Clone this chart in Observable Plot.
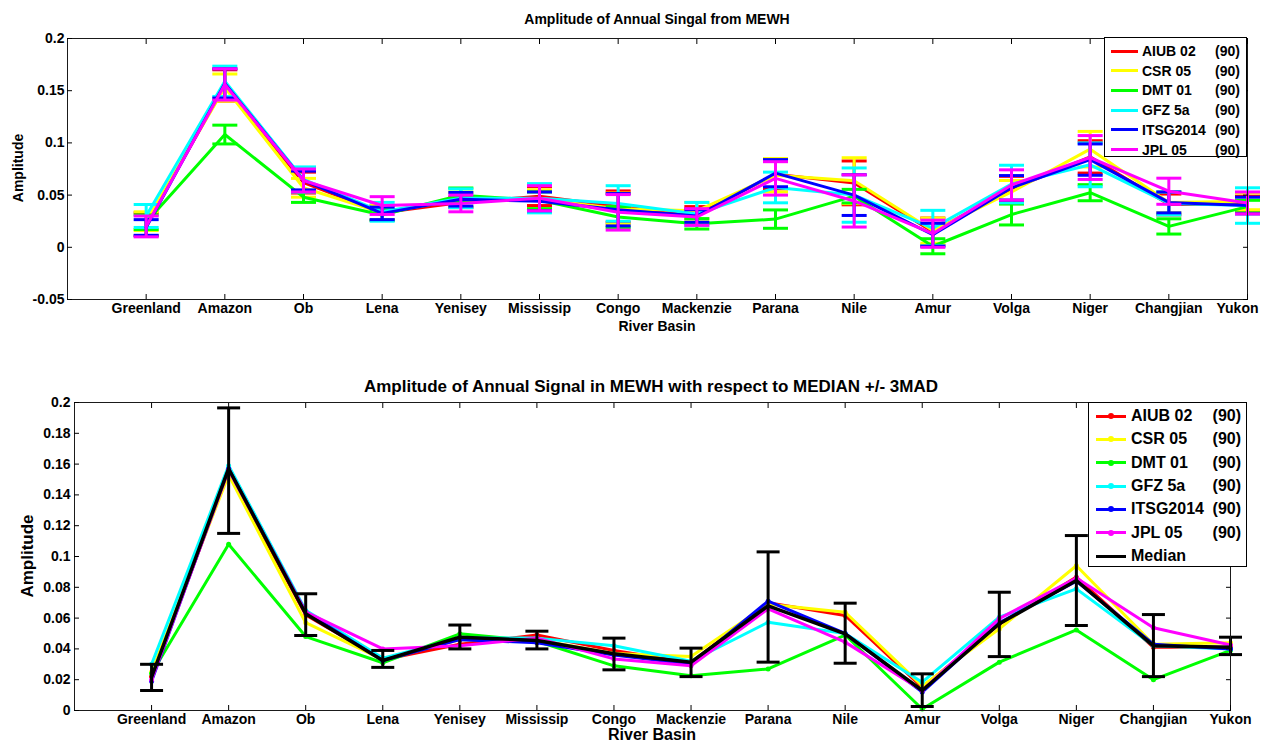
<!DOCTYPE html>
<html><head><meta charset="utf-8">
<script src="https://cdn.jsdelivr.net/npm/d3@7"></script>
<script src="https://cdn.jsdelivr.net/npm/@observablehq/plot@0.6"></script>
<style>
body{margin:0;background:#fff;font-family:"Liberation Sans",Arial,sans-serif;color:#000;}
#wrap{position:relative;width:1261px;height:744px;overflow:hidden;background:#fff;}
.abs{position:absolute;}
.lbl{position:absolute;font-weight:bold;white-space:nowrap;line-height:1;transform:translate(-50%,-50%);}
.rot{transform:translate(-50%,-50%) rotate(-90deg);}
.legend{position:absolute;border:1px solid #000;background:#fff;font-weight:bold;box-sizing:border-box;z-index:5;}
.legend .sw{position:absolute;height:3px;}
.legend .nm,.legend .ct{position:absolute;line-height:1;white-space:nowrap;transform:translateY(-50%);}
.legend .mk{position:absolute;width:6px;height:6px;border-radius:50%;transform:translate(-50%,-50%);}
</style></head><body><div id="wrap"></div>
<script>
// ---- data ----
const basins = ["Greenland","Amazon","Ob","Lena","Yenisey","Mississip","Congo","Mackenzie","Parana","Nile","Amur","Volga","Niger","Changjian","Yukon"];
const seriesNames = ["AIUB 02","CSR 05","DMT 01","GFZ 5a","ITSG2014","JPL 05"];
const seriesCounts = [90,90,90,90,90,90];
const seriesColors = ["#ff0000","#ffff00","#00ff00","#00ffff","#0000ff","#ff00ff"];

const aiub02   = [0.022,0.155,0.062,0.033,0.043,0.049,0.039,0.031,0.070,0.0617,0.015,0.056,0.0866,0.041,0.041];
const csr05    = [0.025,0.153,0.057,0.033,0.046,0.046,0.037,0.035,0.069,0.0638,0.016,0.053,0.094,0.043,0.044];
const dmt01    = [0.024,0.108,0.048,0.031,0.0498,0.045,0.029,0.0225,0.027,0.049,0.001,0.0314,0.0523,0.020,0.039];
const gfz5a    = [0.030,0.159,0.065,0.034,0.047,0.047,0.042,0.032,0.0573,0.050,0.0184,0.0606,0.079,0.042,0.040];
const itsg2014 = [0.019,0.157,0.064,0.0325,0.046,0.044,0.036,0.030,0.071,0.050,0.012,0.057,0.084,0.043,0.040];
const jpl05    = [0.020,0.156,0.064,0.040,0.042,0.047,0.0335,0.029,0.066,0.0444,0.013,0.0597,0.086,0.0537,0.0425];

const aiub02Err   = [0.011,0.015,0.010,0.007,0.005,0.009,0.015,0.008,0.014,0.021,0.013,0.012,0.0155,0.010,0.008];
const csr05Err    = [0.009,0.013,0.009,0.007,0.007,0.009,0.015,0.008,0.016,0.022,0.012,0.011,0.017,0.010,0.008];
const dmt01Err    = [0.007,0.009,0.005,0.005,0.007,0.008,0.010,0.005,0.0088,0.0065,0.0072,0.010,0.0077,0.0073,0.006];
const gfz5aErr    = [0.011,0.0145,0.012,0.009,0.009,0.014,0.017,0.011,0.0147,0.026,0.017,0.018,0.021,0.011,0.017];
const itsg2014Err = [0.0075,0.014,0.009,0.006,0.0065,0.009,0.0155,0.006,0.013,0.0195,0.011,0.0117,0.015,0.010,0.008];
const jpl05Err    = [0.010,0.015,0.011,0.0085,0.008,0.012,0.017,0.008,0.016,0.025,0.013,0.0145,0.021,0.0125,0.0105];

const medianVals = [0.0216,0.157,0.0628,0.0325,0.0476,0.0455,0.0368,0.0314,0.068,0.0498,0.013,0.0563,0.0844,0.042,0.041];
const medianLow  = [0.013,0.115,0.0487,0.028,0.040,0.040,0.0264,0.022,0.0314,0.0307,0.0026,0.035,0.0552,0.022,0.0363];
const medianHigh = [0.030,0.1965,0.0758,0.039,0.0555,0.0515,0.047,0.0405,0.103,0.0697,0.0238,0.0768,0.1136,0.0623,0.0476];

const topYTicks = [-0.05,0,0.05,0.1,0.15,0.2];
const bottomYTicks = [0,0.02,0.04,0.06,0.08,0.1,0.12,0.14,0.16,0.18,0.2];

// ---- build ----
const seriesValues = [aiub02,csr05,dmt01,gfz5a,itsg2014,jpl05];
const seriesErrors = [aiub02Err,csr05Err,dmt01Err,gfz5aErr,itsg2014Err,jpl05Err];
const xTicks = basins.map((b,i)=>i+1);
const fmt = d => String(+d.toFixed(2));
const cap = {draw(ctx, size){ const r = Math.sqrt(size/Math.PI); ctx.moveTo(-r,0); ctx.lineTo(r,0); }};
const FONT = '"Liberation Sans", Arial, sans-serif';

function frameAxes(yTicks, pad, lastDx){
  return [
    Plot.frame({stroke:"#1a1a1a", strokeWidth:1}),
    Plot.axisX({anchor:"bottom", ticks:xTicks, tickSize:-5, tickFormat:()=>"", label:null, stroke:"#000"}),
    Plot.axisX({anchor:"top", ticks:xTicks, tickSize:-5, tickFormat:()=>"", label:null, stroke:"#000"}),
    Plot.axisX({anchor:"bottom", ticks:xTicks.slice(0,-1), tickSize:0, tickPadding:pad.x, tickFormat:i=>basins[i-1], label:null, fill:"#000"}),
    Plot.axisX({anchor:"bottom", ticks:xTicks.slice(-1), tickSize:0, tickPadding:pad.x, tickFormat:i=>basins[i-1], label:null, fill:"#000", dx:lastDx}),
    Plot.axisY({anchor:"left", ticks:yTicks, tickSize:-5, tickFormat:()=>"", label:null, stroke:"#000"}),
    Plot.axisY({anchor:"right", ticks:yTicks, tickSize:-5, tickFormat:()=>"", label:null, stroke:"#000"}),
    Plot.axisY({anchor:"left", ticks:yTicks, tickSize:0, tickPadding:pad.y, tickFormat:fmt, label:null, fill:"#000"})
  ];
}

const series = seriesNames.map((name,i)=>({name, color:seriesColors[i], values:seriesValues[i], errors:seriesErrors[i]}));

const topMarks = series.flatMap(s => {
  const rows = s.values.map((v,j)=>({x:j+1, y:v, lo:v-s.errors[j], hi:v+s.errors[j]}));
  return [
    Plot.line(rows,{x:"x",y:"y",stroke:s.color,strokeWidth:3}),
    Plot.ruleX(rows,{x:"x",y1:"lo",y2:"hi",stroke:s.color,strokeWidth:3}),
    Plot.dot(rows,{x:"x",y:"lo",symbol:cap,r:12.5,stroke:s.color,strokeWidth:3,fill:"none"}),
    Plot.dot(rows,{x:"x",y:"hi",symbol:cap,r:12.5,stroke:s.color,strokeWidth:3,fill:"none"})
  ];
});

const topPlot = Plot.plot({
  width:1261, height:345,
  marginTop:38, marginBottom:46, marginLeft:67, marginRight:14,
  x:{domain:[0,15], label:null},
  y:{domain:[-0.05,0.2], label:null},
  style:{fontFamily:FONT, fontSize:"14px", fontWeight:"bold", color:"#000", background:"transparent", overflow:"visible"},
  marks:[...topMarks, ...frameAxes(topYTicks,{x:4,y:3},-10)]
});

const bottomSeriesMarks = series.flatMap(s => {
  const rows = s.values.map((v,j)=>({x:j+1, y:v}));
  return [
    Plot.line(rows,{x:"x",y:"y",stroke:s.color,strokeWidth:3}),
    Plot.dot(rows,{x:"x",y:"y",r:2.5,fill:s.color})
  ];
});
const medRows = medianVals.map((v,j)=>({x:j+1, y:v, lo:medianLow[j], hi:medianHigh[j]}));
const bottomPlot = Plot.plot({
  width:1261, height:394,
  marginTop:52, marginBottom:34, marginLeft:74, marginRight:31,
  x:{domain:[0,15], label:null},
  y:{domain:[0,0.2], label:null},
  style:{fontFamily:FONT, fontSize:"14px", fontWeight:"bold", color:"#000", background:"transparent", overflow:"visible"},
  marks:[
    ...bottomSeriesMarks,
    Plot.line(medRows,{x:"x",y:"y",stroke:"#000",strokeWidth:3.5}),
    Plot.ruleX(medRows,{x:"x",y1:"lo",y2:"hi",stroke:"#000",strokeWidth:3}),
    Plot.dot(medRows,{x:"x",y:"lo",symbol:cap,r:11.5,stroke:"#000",strokeWidth:3,fill:"none"}),
    Plot.dot(medRows,{x:"x",y:"hi",symbol:cap,r:11.5,stroke:"#000",strokeWidth:3,fill:"none"}),
    ...frameAxes(bottomYTicks,{x:4,y:4},0)
  ]
});

const wrap = document.getElementById("wrap");
function place(el, left, top){ const d=document.createElement("div"); d.className="abs"; d.style.left=left+"px"; d.style.top=top+"px"; d.appendChild(el); wrap.appendChild(d); return d; }
place(topPlot,0,0);
place(bottomPlot,0,350);

function label(text, x, y, size, rot){
  const d=document.createElement("div"); d.className="lbl"+(rot?" rot":"");
  d.textContent=text; d.style.left=x+"px"; d.style.top=y+"px"; d.style.fontSize=size+"px";
  wrap.appendChild(d);
}
label("Amplitude of Annual Singal from MEWH", 657, 19, 14);
label("Amplitude", 18, 168, 14, true);
label("River Basin", 657, 326, 14);
label("Amplitude of Annual Signal in MEWH with respect to MEDIAN +/- 3MAD", 651, 386, 17);
label("Amplitude", 27, 556, 17, true);
label("River Basin", 652, 735, 16);

function legend(opts){
  const box=document.createElement("div"); box.className="legend";
  Object.assign(box.style,{left:opts.left+"px",top:opts.top+"px",width:opts.width+"px",height:opts.height+"px",fontSize:opts.font+"px"});
  opts.items.forEach((it,i)=>{
    const cy = opts.first + i*opts.step;
    const sw=document.createElement("div"); sw.className="sw";
    Object.assign(sw.style,{left:opts.swLeft+"px",width:opts.swWidth+"px",top:(cy-1.5)+"px",background:it.color});
    box.appendChild(sw);
    if(opts.marker && it.marker){
      const mk=document.createElement("div"); mk.className="mk";
      Object.assign(mk.style,{left:(opts.swLeft+opts.swWidth/2)+"px",top:cy+"px",background:it.color});
      box.appendChild(mk);
    }
    const nm=document.createElement("div"); nm.className="nm"; nm.textContent=it.name;
    Object.assign(nm.style,{left:opts.textLeft+"px",top:cy+"px"}); box.appendChild(nm);
    if(it.count!=null){
      const ct=document.createElement("div"); ct.className="ct"; ct.textContent="("+it.count+")";
      Object.assign(ct.style,{right:opts.countRight+"px",top:cy+"px"}); box.appendChild(ct);
    }
  });
  wrap.appendChild(box);
}
const legItems = seriesNames.map((n,i)=>({name:n,color:seriesColors[i],count:seriesCounts[i],marker:true}));
legend({left:1104,top:37,width:143,height:120,font:14,first:13,step:19.7,swLeft:6,swWidth:27,textLeft:37,countRight:6,items:legItems});
legend({left:1088,top:402,width:159,height:165,font:16,first:13,step:23.35,swLeft:7,swWidth:30,textLeft:42,countRight:5,marker:true,
  items:[...legItems,{name:"Median",color:"#000",count:null,marker:false}]});
</script></body></html>
